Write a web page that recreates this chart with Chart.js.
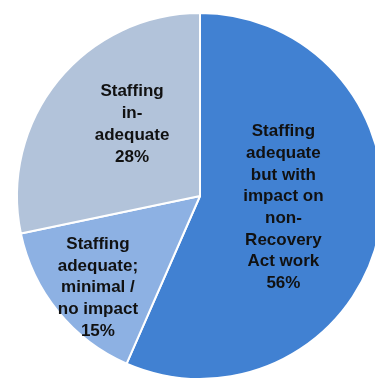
<!DOCTYPE html>
<html lang="en">
<head>
    <meta charset="UTF-8">
    <title>Staffing impact</title>
    <script src="https://cdn.jsdelivr.net/npm/chart.js"></script>
    <style>
        html, body {
            margin: 0;
            padding: 0;
            background: #fff;
            width: 375px;
            height: 381px;
            overflow: hidden;
        }
        .chart-box {
            position: absolute;
            left: 0;
            top: 0;
            width: 400px;
            height: 392px;
        }
    </style>
</head>
<body>
    <div class="chart-box">
        <canvas id="pieChart"></canvas>
    </div>

    <script>
        // data
        const categories = [
            ['Staffing', 'adequate', 'but with', 'impact on', 'non-', 'Recovery', 'Act work'],
            ['Staffing', 'adequate;', 'minimal /', 'no impact'],
            ['Staffing', 'in-', 'adequate']
        ];
        const shares = [56, 15, 28];
        const sliceColors = ['#4181d2', '#8db1e3', '#b2c3da'];

        // where each label sits, as a fraction of the radius, and an angle nudge (radians)
        const labelRadius = [0.46, 0.75, 0.54];
        const labelNudge = [-0.07, -0.05, 0.13];

        const sliceLabels = {
            id: 'sliceLabels',
            afterDatasetsDraw(chart) {
                const ctx = chart.ctx;
                const arcs = chart.getDatasetMeta(0).data;
                ctx.save();
                ctx.font = 'bold 17px "Liberation Sans", Arial, sans-serif';
                ctx.fillStyle = '#111';
                ctx.textAlign = 'center';
                ctx.textBaseline = 'middle';
                arcs.forEach((arc, i) => {
                    const p = arc.getProps(['x', 'y', 'startAngle', 'endAngle', 'outerRadius'], true);
                    const mid = (p.startAngle + p.endAngle) / 2 + labelNudge[i];
                    const r = p.outerRadius * labelRadius[i];
                    const cx = p.x + Math.cos(mid) * r;
                    const cy = p.y + Math.sin(mid) * r;
                    const lines = categories[i].concat([shares[i] + '%']);
                    const lh = 21.7;
                    const top = cy - (lines.length - 1) * lh / 2;
                    lines.forEach((t, k) => {
                        ctx.fillText(t, cx, top + k * lh);
                    });
                });
                ctx.restore();
            }
        };

        const ctx = document.getElementById('pieChart').getContext('2d');
        new Chart(ctx, {
            type: 'pie',
            data: {
                labels: categories.map(c => c.join(' ')),
                datasets: [{
                    data: shares,
                    backgroundColor: sliceColors,
                    borderColor: '#ffffff',
                    borderWidth: 2
                }]
            },
            options: {
                responsive: true,
                maintainAspectRatio: false,
                animation: false,
                layout: { padding: 12 },
                plugins: {
                    legend: { display: false },
                    tooltip: { enabled: false }
                }
            },
            plugins: [sliceLabels]
        });
    </script>
</body>
</html>
